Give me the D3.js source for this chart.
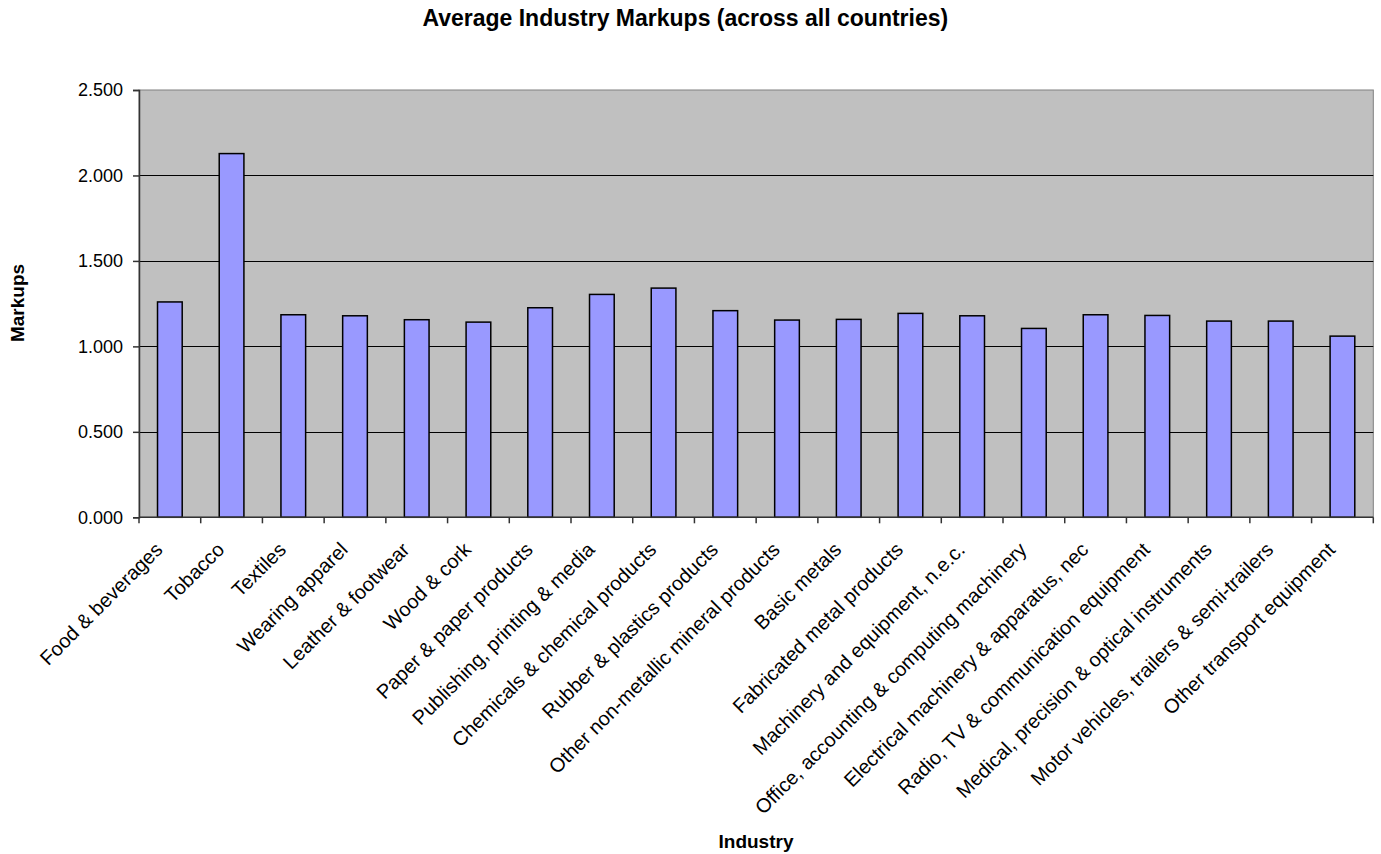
<!DOCTYPE html>
<html>
<head>
<meta charset="utf-8">
<script src="https://cdn.jsdelivr.net/npm/d3@7/dist/d3.min.js"></script>
<style>
  html, body { margin: 0; padding: 0; background: #ffffff; }
  svg { display: block; font-family: "Liberation Sans", Arial, sans-serif; }
</style>
</head>
<body>
<svg id="chart" width="1381" height="854"></svg>
<script>
// Industry categories (x axis)
const industries = [
  "Food & beverages",
  "Tobacco",
  "Textiles",
  "Wearing apparel",
  "Leather & footwear",
  "Wood & cork",
  "Paper & paper products",
  "Publishing, printing & media",
  "Chemicals & chemical products",
  "Rubber & plastics products",
  "Other non-metallic mineral products",
  "Basic metals",
  "Fabricated metal products",
  "Machinery and equipment, n.e.c.",
  "Office, accounting & computing machinery",
  "Electrical machinery & apparatus, nec",
  "Radio, TV & communication equipment",
  "Medical, precision & optical instruments",
  "Motor vehicles, trailers & semi-trailers",
  "Other transport equipment"
];

// Average markup per industry
const markups = [
  1.260, 2.128, 1.185, 1.179, 1.156, 1.142, 1.226, 1.304, 1.341, 1.209,
  1.154, 1.158, 1.193, 1.179, 1.105, 1.185, 1.181, 1.148, 1.148, 1.060
];

// Y axis tick values
const yTicks = [0, 0.5, 1.0, 1.5, 2.0, 2.5];

const titleText = "Average Industry Markups (across all countries)";
const xTitle = "Industry";
const yTitle = "Markups";

const svg = d3.select("#chart");

const plot = { left: 139, right: 1373.3, top: 90, bottom: 517.3 };

const x = d3.scaleBand()
  .domain(industries)
  .range([plot.left, plot.right])
  .paddingInner(0)
  .paddingOuter(0);

const y = d3.scaleLinear()
  .domain([0, 2.5])
  .range([plot.bottom, plot.top]);

// Plot background
svg.append("rect")
  .attr("x", plot.left)
  .attr("y", plot.top)
  .attr("width", plot.right - plot.left)
  .attr("height", plot.bottom - plot.top)
  .attr("fill", "#c0c0c0")
  .attr("stroke", "#808080")
  .attr("stroke-width", 1);

// Horizontal gridlines
svg.append("g")
  .selectAll("line")
  .data(yTicks.filter(d => d > 0 && d < 2.5))
  .join("line")
  .attr("x1", plot.left)
  .attr("x2", plot.right)
  .attr("y1", d => Math.round(y(d)) + 0.5)
  .attr("y2", d => Math.round(y(d)) + 0.5)
  .attr("stroke", "#000")
  .attr("stroke-width", 1);

// Bars
const barW = x.bandwidth() * 0.4;
svg.append("g")
  .selectAll("rect")
  .data(industries.map((name, i) => ({ name, value: markups[i] })))
  .join("rect")
  .attr("x", d => x(d.name) + (x.bandwidth() - barW) / 2)
  .attr("y", d => y(d.value))
  .attr("width", barW)
  .attr("height", d => y(0) - y(d.value))
  .attr("fill", "#9999ff")
  .attr("stroke", "#000")
  .attr("stroke-width", 1.5);

// Y axis
const yAxis = d3.axisLeft(y)
  .tickValues(yTicks)
  .tickFormat(d3.format(".3f"))
  .tickSize(6)
  .tickPadding(10);

const gy = svg.append("g")
  .attr("transform", `translate(${plot.left},0)`)
  .call(yAxis);
gy.select(".domain").attr("stroke", "#333").attr("stroke-width", 1.5);
gy.selectAll(".tick line").attr("stroke", "#333").attr("stroke-width", 1.5);
gy.selectAll(".tick text")
  .attr("font-size", 18)
  .attr("fill", "#000")
  .attr("font-family", "Liberation Sans, Arial, sans-serif");

// X axis: ticks at category boundaries
const boundaries = d3.range(industries.length + 1).map(i => plot.left + i * x.step());
svg.append("line")
  .attr("x1", plot.left).attr("x2", plot.right)
  .attr("y1", plot.bottom).attr("y2", plot.bottom)
  .attr("stroke", "#333").attr("stroke-width", 1.5);
svg.append("g")
  .selectAll("line")
  .data(boundaries)
  .join("line")
  .attr("x1", d => d).attr("x2", d => d)
  .attr("y1", plot.bottom).attr("y2", plot.bottom + 6)
  .attr("stroke", "#333").attr("stroke-width", 1.5);

// Rotated category labels
svg.append("g")
  .selectAll("text")
  .data(industries)
  .join("text")
  .attr("transform", d => `translate(${x(d) + x.bandwidth() / 2 - 11},546) rotate(-45)`)
  .attr("text-anchor", "end")
  .attr("dy", "0.35em")
  .attr("font-size", 20)
  .attr("fill", "#000")
  .text(d => d);

// Title
svg.append("text")
  .attr("x", 685.3)
  .attr("y", 26)
  .attr("text-anchor", "middle")
  .attr("font-size", 23)
  .attr("font-weight", "bold")
  .text(titleText);

// Axis titles
svg.append("text")
  .attr("x", 756)
  .attr("y", 848)
  .attr("text-anchor", "middle")
  .attr("font-size", 19)
  .attr("font-weight", "bold")
  .text(xTitle);

svg.append("text")
  .attr("transform", "translate(24,303) rotate(-90)")
  .attr("text-anchor", "middle")
  .attr("font-size", 19)
  .attr("font-weight", "bold")
  .text(yTitle);
</script>
</body>
</html>
